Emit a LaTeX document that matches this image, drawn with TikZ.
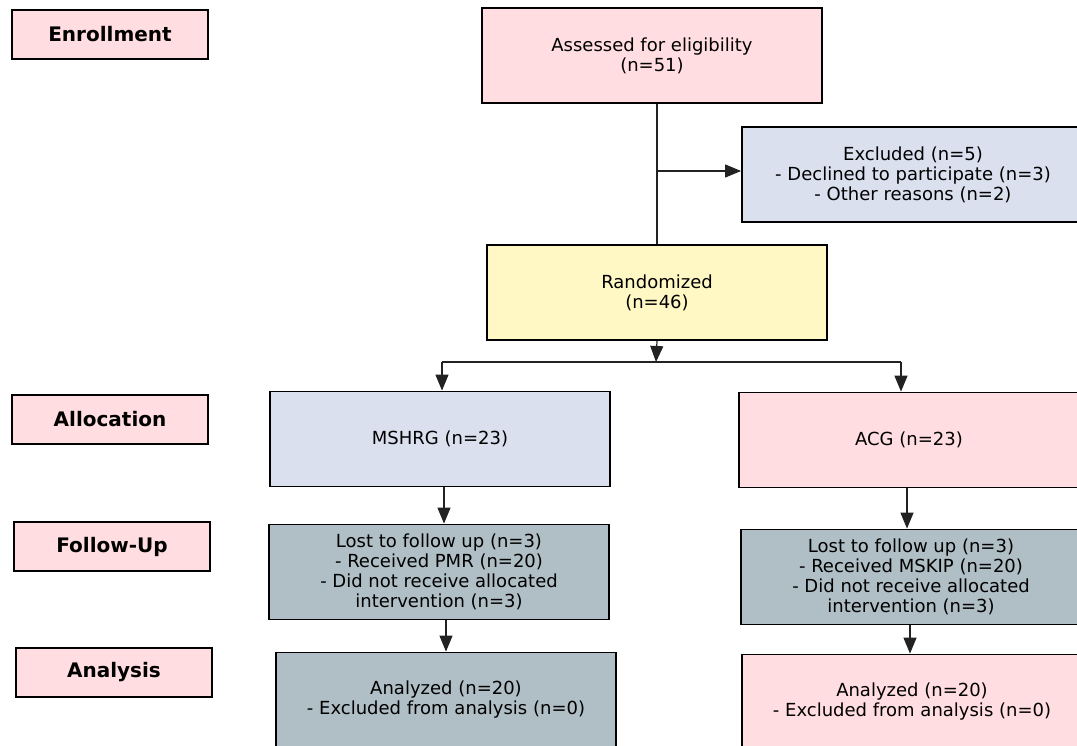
\documentclass[tikz,border=0pt]{standalone}
\usepackage{fontspec}
\setmainfont{DejaVu Sans}
\usetikzlibrary{arrows.meta}
\definecolor{cpink}{HTML}{FFDDE0}
\definecolor{cblue}{HTML}{DAE0EE}
\definecolor{cyel}{HTML}{FFF8C4}
\definecolor{cgray}{HTML}{B0BEC5}
\definecolor{cline}{HTML}{222222}
\begin{document}
\begin{tikzpicture}[x=1pt,y=-1pt,
  box/.style={draw=black,line width=1.8pt,inner sep=0pt,align=center,
    minimum width=340pt,minimum height=95pt,
    font=\fontsize{18}{20}\selectfont},
  stage/.style={draw=black,line width=1.8pt,inner sep=0pt,fill=cpink,
    minimum width=196pt,minimum height=49pt,font=\fontsize{20}{22}\selectfont\bfseries},
  conn/.style={draw=cline,line width=1.2pt},
  arr/.style={conn,-{Triangle[length=16pt,width=13pt]}}]
\useasboundingbox (0,0) rectangle (1077,746);
% stage labels
\node[stage] (enr) at (110,34.5) {Enrollment};
\node[stage] (alloc) at (110,419.5) {Allocation};
\node[stage] (fup) at (112,546.5) {Follow-Up};
\node[stage] (ana) at (114,672.5) {Analysis};
% main boxes
\node[box,fill=cpink] (assess) at (652,55.5) {Assessed for eligibility\\(n=51)};
\node[box,fill=cblue,minimum width=342pt] (excl) at (913,174.5) {Excluded (n=5)\\- Declined to participate (n=3)\\- Other reasons (n=2)};
\node[box,fill=cyel] (rand) at (657,292.5) {Randomized\\(n=46)};
\node[box,fill=cblue] (mshrg) at (440,439) {MSHRG (n=23)};
\node[box,fill=cpink] (acg) at (909,440) {ACG (n=23)};
\node[box,fill=cgray] (lostl) at (439,572) {Lost to follow up (n=3)\\- Received PMR (n=20)\\- Did not receive allocated\\intervention (n=3)};
\node[box,fill=cgray] (lostr) at (911,577) {Lost to follow up (n=3)\\- Received MSKIP (n=20)\\- Did not receive allocated\\intervention (n=3)};
\node[box,fill=cgray] (anal) at (446,700) {Analyzed (n=20)\\- Excluded from analysis (n=0)};
\node[box,fill=cpink] (anar) at (912,702) {Analyzed (n=20)\\- Excluded from analysis (n=0)};
% connectors
\coordinate (tap) at (657,171);
\draw[conn] (rand.north |- assess.south) -- (rand.north);
\draw[arr] (tap) -- (tap -| excl.west);
\coordinate (split) at (656,362);
\coordinate (sl) at (442,362);
\coordinate (sr) at (901,362);
\draw[arr] (rand.south) -- (split);
\draw[conn] (sl) -- (sr);
\draw[arr] (sl) -- (sl |- mshrg.north);
\draw[arr] (sr) -- (sr |- acg.north);
\draw[arr] ([xshift=4pt]mshrg.south) -- ([xshift=4pt]mshrg.south |- lostl.north);
\draw[arr] ([xshift=7pt]lostl.south) -- ([xshift=7pt]lostl.south |- anal.north);
\draw[arr] ([xshift=-2pt]acg.south) -- ([xshift=-2pt]acg.south |- lostr.north);
\draw[arr] ([xshift=-1pt]lostr.south) -- ([xshift=-1pt]lostr.south |- anar.north);
\end{tikzpicture}
\end{document}
